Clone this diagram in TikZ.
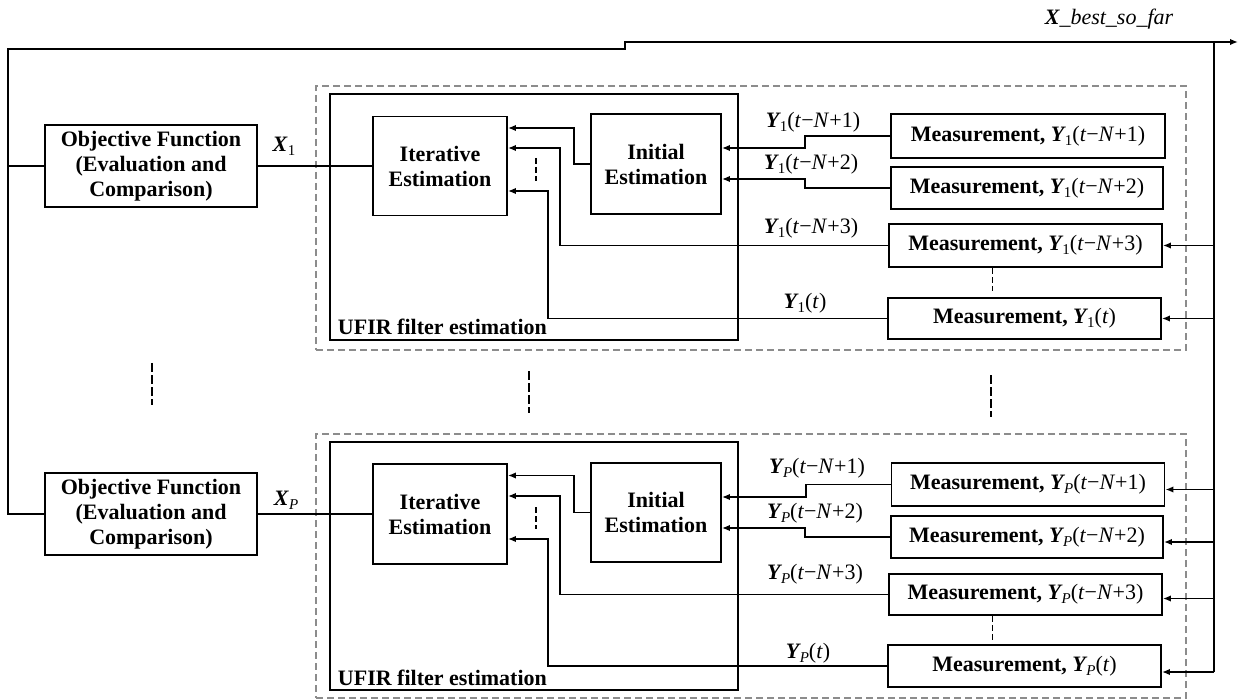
\documentclass[tikz,border=0pt]{standalone}
\usepackage{fontspec}
\setmainfont{Liberation Serif}
\usetikzlibrary{arrows.meta}

% bold italic symbol with a small subscript
\newcommand\symb[2]{{\bfseries\itshape #1}\kern0.5pt\raisebox{-4pt}{\fontsize{15}{15}\selectfont\mdseries\upshape #2}}
% time argument in regular weight
\newcommand\targ[1]{{\mdseries\upshape(\textit{t}#1)}}

\begin{document}
\begin{tikzpicture}[x=1pt,y=-1pt,
  line width=1.9pt, line join=miter,
  txt/.style={font=\fontsize{22}{25}\selectfont},
  box/.style={draw, line width=1.9pt, inner sep=0pt, align=center, font=\fontsize{22}{25}\selectfont\bfseries},
  meas/.style={box, minimum width=273pt, minimum height=43pt},
  frame/.style={draw=black!45, dash pattern=on 7pt off 4pt, line width=1.4pt, inner sep=0pt},
  ufir/.style={draw, line width=1.9pt, inner sep=0pt},
  lab/.style={inner sep=0pt, txt, anchor=base},
  arr/.style={-{Latex[length=8pt,width=6.5pt]}},
  gap/.style={dash pattern=on 9pt off 3pt, line width=2.2pt},
  tick/.style={dash pattern=on 6pt off 3pt, line width=1.8pt},
]
\useasboundingbox (0,0) rectangle (1239,700);

% ---------- group 1 ----------
\node[frame, minimum width=870pt, minimum height=264pt] (grpA) at (751,218) {};
\node[ufir, minimum width=408pt, minimum height=246pt] (ufA) at (534,217) {};
\node[lab, anchor=base west, font=\fontsize{22}{25}\selectfont\bfseries] (ufAl) at (337,335) {UFIR filter estimation};

\node[box, minimum width=212pt, minimum height=82pt] (ofA) at (151,166)
  {Objective Function\\(Evaluation and\\Comparison)};
\node[box, minimum width=134pt, minimum height=99pt] (itA) at (440,166) {Iterative\\Estimation};
\node[box, minimum width=130pt, minimum height=100pt] (inA) at (656,164) {Initial\\Estimation};

\node[meas, minimum width=274pt, minimum height=44pt] (m1a) at (1028,136) {Measurement, \symb{Y}{1}\targ{−\textit{N}+1}};
\node[meas, minimum width=272pt, minimum height=42pt] (m2a) at (1027,188) {Measurement, \symb{Y}{1}\targ{−\textit{N}+2}};
\node[meas] (m3a) at (1025.5,245.5) {Measurement, \symb{Y}{1}\targ{−\textit{N}+3}};
\node[meas, minimum height=41pt] (m4a) at (1024.5,318.5) {Measurement, \symb{Y}{1}\targ{}};

\node[lab] (xa) at (284,152) {\symb{X}{1}};
\node[lab] (ya1) at (813,128) {\symb{Y}{1}\targ{−\textit{N}+1}};
\node[lab] (ya2) at (811,170) {\symb{Y}{1}\targ{−\textit{N}+2}};
\node[lab] (ya3) at (811,234) {\symb{Y}{1}\targ{−\textit{N}+3}};
\node[lab] (ya4) at (805,309) {\symb{Y}{1}\targ{}};

\draw (ofA.east) -- (itA.west);
\draw[arr] (inA.west) -- ++(-16,0) |- ([yshift=38pt]itA.east);
\draw[arr] (m1a.west) -- ++(-85,0) |- ([yshift=16pt]inA.east);
\draw[arr] (m2a.west) -- ++(-85,0) |- ([yshift=-15pt]inA.east);
\draw[arr] (m3a.west) -- ++(-328,0) |- ([yshift=18pt]itA.east);
\draw[arr] (m4a.west) -- ++(-339,0) |- ([yshift=-25pt]itA.east);
\draw[tick] ([xshift=28pt,yshift=8pt]itA.east) -- ([xshift=28pt,yshift=-15pt]itA.east);
\draw[tick] ([xshift=-33pt]m3a.south) -- ([xshift=-33pt,yshift=-23pt]m3a.south);

% ---------- group P ----------
\node[frame, minimum width=870pt, minimum height=264pt] (grpB) at (751,566) {};
\node[ufir, minimum width=408pt, minimum height=248pt] (ufB) at (534,566) {};
\node[lab, anchor=base west, font=\fontsize{22}{25}\selectfont\bfseries] (ufBl) at (337,685) {UFIR filter estimation};

\node[box, minimum width=212pt, minimum height=82pt] (ofB) at (151,514)
  {Objective Function\\(Evaluation and\\Comparison)};
\node[box, minimum width=134pt, minimum height=100pt] (itB) at (440,514) {Iterative\\Estimation};
\node[box, minimum width=130pt, minimum height=99pt] (inB) at (656,512.5) {Initial\\Estimation};

\node[meas] (m1b) at (1028,484.5) {Measurement, \symb{Y}{\textit{P}}\targ{−\textit{N}+1}};
\node[meas, minimum width=272pt, minimum height=42pt] (m2b) at (1027,537) {Measurement, \symb{Y}{\textit{P}}\targ{−\textit{N}+2}};
\node[meas, minimum height=41pt] (m3b) at (1025.5,594.5) {Measurement, \symb{Y}{\textit{P}}\targ{−\textit{N}+3}};
\node[meas, minimum height=42pt] (m4b) at (1024.5,666) {Measurement, \symb{Y}{\textit{P}}\targ{}};

\node[lab] (xb) at (286,505) {\symb{X}{\textit{P}}};
\node[lab] (yb1) at (817,473) {\symb{Y}{\textit{P}}\targ{−\textit{N}+1}};
\node[lab] (yb2) at (815,518) {\symb{Y}{\textit{P}}\targ{−\textit{N}+2}};
\node[lab] (yb3) at (815,579) {\symb{Y}{\textit{P}}\targ{−\textit{N}+3}};
\node[lab] (yb4) at (808,658) {\symb{Y}{\textit{P}}\targ{}};

\draw (ofB.east) -- (itB.west);
\draw[arr] (inB.west) -- ++(-16,0) |- ([yshift=38.5pt]itB.east);
\draw[arr] (m1b.west) -- ++(-85,0) |- ([yshift=15.5pt]inB.east);
\draw[arr] (m2b.west) -- ++(-85,0) |- ([yshift=-15.5pt]inB.east);
\draw[arr] (m3b.west) -- ++(-328,0) |- ([yshift=18pt]itB.east);
\draw[arr] (m4b.west) -- ++(-339,0) |- ([yshift=-25pt]itB.east);
\draw[tick] ([xshift=28pt,yshift=7pt]itB.east) -- ([xshift=28pt,yshift=-15pt]itB.east);
\draw[tick] ([xshift=-33pt]m3b.south) -- ([xshift=-33pt,yshift=-24pt]m3b.south);

% ---------- feedback of the best solution ----------
\coordinate (fbL) at (8,49);
\coordinate (fbS) at (625,42);
\coordinate (tip) at (1238,42);
\coordinate (busT) at (1214,42);
\node[lab, font=\fontsize{22}{25}\selectfont\itshape] (best) at (1109,25) {{\bfseries X}\_best\_so\_far};

\draw[arr] (ofB.west) -| (fbL) -- (fbL -| fbS) |- (tip);
\draw (ofA.west) -- (ofA.west -| fbL);

\coordinate (r3a) at (m3a.east);
\coordinate (r4a) at (m4a.east);
\coordinate (r1b) at ([yshift=-5pt]m1b.east);
\coordinate (r2b) at ([yshift=-5pt]m2b.east);
\coordinate (r3b) at ([yshift=-4pt]m3b.east);
\coordinate (r4b) at ([yshift=-6pt]m4b.east);
\draw (busT) -- (r4b -| busT);
\foreach \r in {r3a,r4a,r1b,r2b,r3b,r4b}
  \draw[arr] (\r -| busT) -- (\r);

% ---------- omitted groups ----------
\coordinate (g1) at (152,363);
\coordinate (g2) at (529,371);
\coordinate (g3) at (991,375);
\draw[gap] (g1) -- ++(0,42);
\draw[gap] (g2) -- ++(0,42);
\draw[gap] (g3) -- ++(0,42);
\end{tikzpicture}
\end{document}
